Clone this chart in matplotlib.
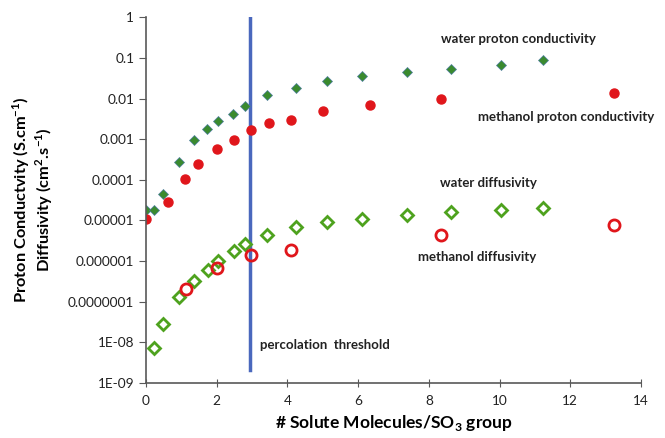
import matplotlib
matplotlib.use("Agg")
import matplotlib.pyplot as plt

plt.rcParams['font.family'] = ['Lato', 'DejaVu Sans']

# water proton conductivity
wc_x = [0.0, 0.23, 0.47, 0.94, 1.35, 1.73, 2.04, 2.47, 2.81, 3.42, 4.24, 5.11, 6.11, 7.37, 8.62, 10.03, 11.22]
wc_y = [1.8e-5, 1.8e-5, 4.5e-5, 2.8e-4, 9.3e-4, 1.8e-3, 2.8e-3, 4.1e-3, 6.6e-3, 1.25e-2, 1.86e-2, 2.7e-2, 3.55e-2, 4.4e-2, 5.2e-2, 6.5e-2, 8.8e-2]

# methanol proton conductivity
mc_x = [0.0, 0.62, 1.10, 1.47, 2.01, 2.49, 2.97, 3.47, 4.09, 5.01, 6.33, 8.33, 13.24]
mc_y = [1.1e-5, 2.9e-5, 1.02e-4, 2.45e-4, 5.8e-4, 9.5e-4, 1.67e-3, 2.43e-3, 3.0e-3, 4.8e-3, 7.1e-3, 9.7e-3, 1.35e-2]

# water diffusivity
wd_x = [0.23, 0.47, 0.94, 1.36, 1.74, 2.04, 2.48, 2.80, 3.42, 4.24, 5.11, 6.11, 7.37, 8.62, 10.03, 11.22]
wd_y = [7.4e-9, 2.9e-8, 1.29e-7, 3.2e-7, 6.0e-7, 1.02e-6, 1.8e-6, 2.6e-6, 4.5e-6, 6.9e-6, 9.2e-6, 1.1e-5, 1.4e-5, 1.6e-5, 1.8e-5, 2.0e-5]

# methanol diffusivity
md_x = [1.12, 2.02, 2.98, 4.10, 8.33, 13.24]
md_y = [2.0e-7, 6.8e-7, 1.38e-6, 1.9e-6, 4.3e-6, 7.8e-6]

threshold_x = 2.95
y_ticks = [1e-9, 1e-8, 1e-7, 1e-6, 1e-5, 1e-4, 1e-3, 1e-2, 1e-1, 1]
y_labels = ['1E-09', '1E-08', '0.0000001', '0.000001', '0.00001', '0.0001',
            '0.001', '0.01', '0.1', '1']

fig = plt.figure(figsize=(6.65, 4.38), dpi=100)
ax = fig.add_axes([0.2195, 0.1256, 0.7445, 0.835])

ax.plot([threshold_x, threshold_x], [2.1e-9, 1], color='#4a68bd', lw=2.5, zorder=1)

ax.plot(wc_x, wc_y, 'D', color='#3a8a2e', mec='#4f7fa0', mew=0.5, ms=5.5, ls='none')
ax.plot(mc_x, mc_y, 'o', color='#e0161b', mec='#e0161b', ms=6.5, ls='none')
ax.plot(wd_x, wd_y, 'D', mfc='white', mec='#4ea21e', mew=2, ms=6.3, ls='none')
ax.plot(md_x, md_y, 'o', mfc='none', mec='#e0161b', mew=2, ms=8, ls='none')

ax.set_yscale('log')
ax.set_ylim(1e-9, 1)
ax.set_xlim(0, 14)
ax.set_yticks(y_ticks)
ax.set_yticklabels(y_labels)
ax.minorticks_off()
ax.set_xticks(range(0, 15, 2))

for s in ['top', 'right']:
    ax.spines[s].set_visible(False)
for s in ['left', 'bottom']:
    ax.spines[s].set_color('#595959')
    ax.spines[s].set_linewidth(1.2)
ax.tick_params(axis='y', direction='out', length=5, color='#595959', labelsize=9.8, labelcolor='#222222')
ax.tick_params(axis='x', direction='inout', length=6, color='#595959', labelsize=9.8, labelcolor='#222222', pad=6)

ax.set_xlabel('# Solute Molecules/SO$_\\mathregular{3}$ group', fontsize=12.5, fontweight='bold', labelpad=4)
ax.set_ylabel('Proton Conductvity (S.cm$^\\mathregular{-1}$)\nDiffusivity (cm$^\\mathregular{2}$.s$^\\mathregular{-1}$)',
              fontsize=11.8, fontweight='bold', labelpad=9, linespacing=1.1)

tkw = dict(fontsize=9.5, fontweight='bold', color='#222222', va='center')
ax.text(8.35, 0.30, 'water proton conductivity', **tkw)
ax.text(9.38, 3.5e-3, 'methanol proton conductivity', **tkw)
ax.text(8.31, 8.3e-5, 'water diffusivity', **tkw)
ax.text(7.70, 1.27e-6, 'methanol diffusivity', **tkw)
ax.text(3.22, 8.5e-9, 'percolation  threshold', **tkw)

fig.savefig('out.png', dpi=100)
